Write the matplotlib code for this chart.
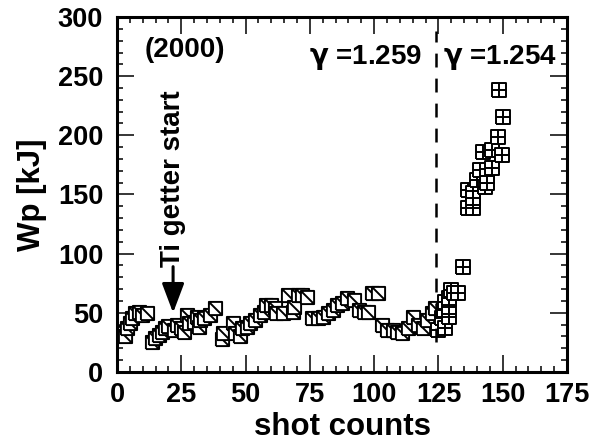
import numpy as np
import matplotlib
matplotlib.use("Agg")
import matplotlib.pyplot as plt
from matplotlib.path import Path
from matplotlib.ticker import MultipleLocator

plt.rcParams['font.family'] = ['Liberation Sans', 'DejaVu Sans']
plt.rcParams['font.weight'] = 'bold'
plt.rcParams['mathtext.fontset'] = 'dejavusans'
plt.rcParams['lines.scale_dashes'] = False

# gamma = 1.259 shots (square with diagonal)
shot_a = [1, 2, 3, 4, 5, 6, 7, 8.5, 9.7, 11.7,
          13.6, 14.8, 16.3, 17.5, 18.7, 20, 22, 23.5, 24.7, 26, 27.3, 28, 30, 31,
          32, 32.4, 34, 36, 38,
          41, 41.3, 45, 46, 48, 48.5, 50.5, 51.7, 53.7, 55.6, 57, 58, 60, 61.5,
          62, 64.5, 66.5, 68.6, 69, 70.5, 72, 74,
          76, 78, 80, 82, 84, 85.5, 87.5, 89.5, 92, 94, 96, 97.6, 99, 101.5,
          103, 105, 107.5, 109, 111, 113, 115, 117, 119, 120.5, 122.5, 123.7]
wp_a = [34, 33, 30, 37, 41, 45.6, 50, 51, 48, 50,
        25, 28.7, 31, 34, 37, 39, 35.5, 40, 37, 34, 48, 41, 42, 46.5,
        38, 44, 45.6, 48, 54,
        28, 33, 41, 33, 30, 37, 38, 41, 44, 48, 51, 57, 57, 54,
        50, 50, 65, 51, 55, 65, 65, 63.4,
        45.6, 45.6, 46.5, 50, 52.4, 56.6, 58, 62.5, 61, 52.4, 51, 51, 66.7, 66.7,
        40, 35.5, 35.5, 34, 33, 37, 46.5, 40, 37, 44, 50, 54]

# gamma = 1.254 shots (square with cross)
shot_b = [125, 126.4, 127, 127.6, 127.6, 129, 129, 129, 130, 131, 132.6,
          134.6, 136.5, 138.5, 136.5, 138.5, 138.5, 140, 141, 142.5, 143,
          143.8, 144, 146, 146, 148, 148.6, 149.7, 150]
wp_b = [35.5, 45.6, 52, 37, 59, 46.5, 55, 62.5, 69, 67, 67,
        89, 139, 138.6, 154, 151, 147, 162, 171, 186, 156,
        160, 166, 172, 187.6, 198.6, 238, 183, 215.5]

x_ticks = [0, 25, 50, 75, 100, 125, 150, 175]
y_ticks = [0, 50, 100, 150, 200, 250, 300]

M, L = Path.MOVETO, Path.LINETO
sq = [(-0.5, -0.5), (0.5, -0.5), (0.5, 0.5), (-0.5, 0.5), (-0.5, -0.5)]
diag_marker = Path(sq + [(-0.5, 0.5), (0.5, -0.5)], [M, L, L, L, L, M, L])
cross_marker = Path(sq + [(0, -0.5), (0, 0.5), (-0.5, 0), (0.5, 0)],
                    [M, L, L, L, L, M, L, M, L])

fig = plt.figure(figsize=(6.02, 4.44), dpi=100)
ax = fig.add_axes([0.1944, 0.1622, 0.7475, 0.7995])

ax.plot(shot_a, wp_a, ls='none', marker=diag_marker, ms=9.5, mfc='white',
        mec='black', mew=1.4)
ax.plot(shot_b, wp_b, ls='none', marker=cross_marker, ms=9.5, mfc='white',
        mec='black', mew=1.4)

# boundary between the two gamma values
ax.plot([124, 124], [25, 288], color='black', lw=1.8, dashes=(10, 8))

ax.text(10.9, 272, '(2000)', fontsize=20, va='center', ha='left')
ax.text(118.6, 266, r'$\mathbf{\gamma}$ =1.259', fontsize=20, va='center', ha='right')
ax.text(126.8, 266, r'$\mathbf{\gamma}$ =1.254', fontsize=20, va='center', ha='left')
ax.text(21.7, 89, 'Ti getter start', fontsize=20, rotation=90,
        ha='center', va='bottom')
ax.annotate('', xy=(21.8, 50), xytext=(21.8, 89),
            arrowprops=dict(arrowstyle='-|>,head_length=1.8,head_width=0.68',
                            lw=2.2, color='black', shrinkA=0, shrinkB=0,
                            mutation_scale=10))

ax.set_xlim(0, 175)
ax.set_ylim(0, 300)
ax.set_xticks(x_ticks)
ax.set_yticks(y_ticks)
ax.xaxis.set_minor_locator(MultipleLocator(5))
ax.yaxis.set_minor_locator(MultipleLocator(10))
ax.tick_params(which='both', direction='in', top=True, right=True,
               labelsize=19.5, width=1.1)
ax.tick_params(which='major', length=12)
ax.tick_params(which='minor', length=4.5)
ax.tick_params(axis='x', pad=7)
ax.tick_params(axis='y', pad=10)
for s in ax.spines.values():
    s.set_linewidth(2.2)

ax.set_xlabel('shot counts', fontsize=22.5, fontweight='bold', labelpad=3)
ax.set_ylabel('Wp [kJ]', fontsize=22.5, fontweight='bold', labelpad=8)

fig.savefig('out.png', dpi=100)
